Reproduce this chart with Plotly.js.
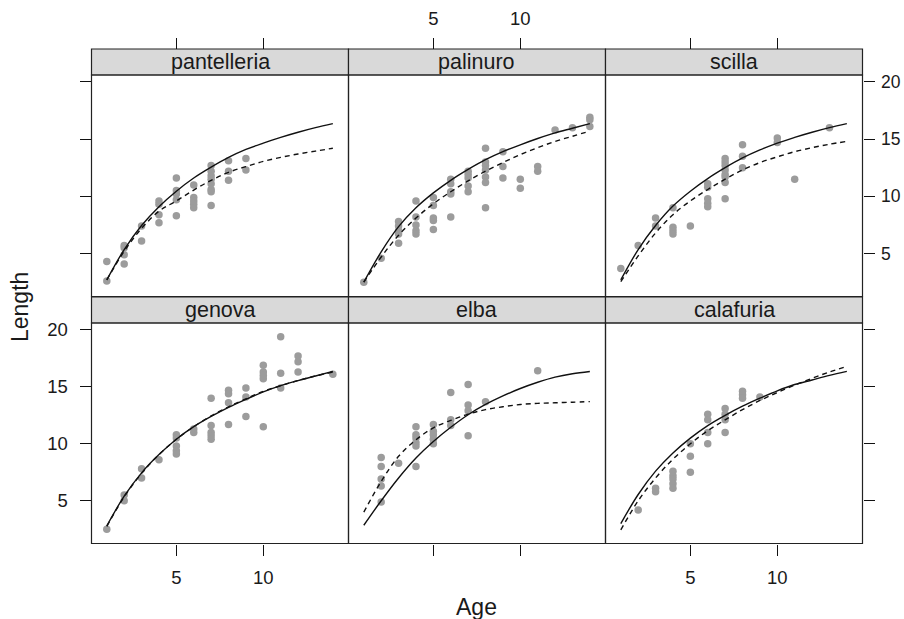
<!DOCTYPE html>
<html>
<head>
<meta charset="utf-8">
<script src="https://cdn.plot.ly/plotly-3.0.1.min.js"></script>
<style>html,body{margin:0;padding:0;background:#fff;}#chart{width:904px;height:619px;}</style>
</head>
<body>
<div id="chart"></div>
<script>
// ---- data ----
const sites = ['pantelleria', 'palinuro', 'scilla', 'genova', 'elba', 'calafuria'];

const pantelleriaAge = [1,1,2,2,2,2,3,3,4,4,4,4,5,5,5,5,5,6,6,6,6,6,7,7,7,7,7,7,7,7,8,8,8,9,9];
const pantelleriaLen = [4.3,2.6,5.7,5.5,4.9,4.1,7.4,6.1,9.6,9.3,8.4,7.7,11.6,10.5,10.2,9.7,8.3,11.0,9.9,9.6,9.3,9.0,12.7,12.2,11.8,11.5,11.1,10.6,10.4,9.2,13.1,12.2,11.4,13.3,12.3];

const palinuroAge = [1,2,3,3,3,3,3,4,4,4,4,4,5,5,5,5,5,6,6,6,6,6,7,7,7,7,7,8,8,8,8,8,8,8,9,9,9,10,10,11,11,12,13,14,14,14];
const palinuroLen = [2.5,4.6,7.8,7.4,7.0,6.7,5.9,9.6,8.2,7.5,7.0,6.7,9.9,9.2,8.1,7.9,7.1,11.5,11.1,10.4,10.2,8.2,12.2,11.9,11.6,10.9,10.4,14.2,13.0,12.7,12.3,11.7,11.2,9.0,13.9,12.6,11.6,11.5,10.7,12.6,12.2,15.8,16.0,16.9,16.7,16.1];

const scillaAge = [1,2,3,3,4,4,4,4,5,6,6,6,6,6,7,7,7,7,7,7,7,7,8,8,8,10,10,11,13];
const scillaLen = [3.7,5.7,8.1,7.4,9.0,7.3,7.0,6.7,7.4,11.1,10.8,9.8,9.4,9.1,13.3,13.0,12.7,12.3,11.9,11.7,11.2,9.8,14.5,13.5,12.5,15.1,14.7,11.5,16.0];

const genovaAge = [1,2,2,3,3,4,5,5,5,5,5,6,6,7,7,7,7,7,8,8,8,8,9,9,9,10,10,10,10,10,11,11,11,12,12,12,14];
const genovaLen = [2.5,5.5,5.0,7.8,7.0,8.6,10.8,10.5,9.8,9.4,9.1,11.3,11.0,14.0,11.6,11.0,10.7,10.4,14.7,14.4,13.6,11.7,14.9,14.1,12.4,16.9,16.3,16.0,15.7,11.5,19.4,16.2,14.9,17.7,17.2,16.3,16.1];

const elbaAge = [2,2,2,2,2,3,4,4,4,4,4,4,5,5,5,5,5,6,6,6,7,7,7,7,8,11];
const elbaLen = [8.8,8.0,6.9,6.3,4.9,8.3,11.5,10.8,10.5,10.1,9.8,8.0,11.7,11.1,10.8,10.4,10.0,14.5,12.1,11.6,15.2,13.4,12.9,10.7,13.7,16.4];

const calafuriaAge = [2,3,3,4,4,4,4,4,5,5,5,6,6,6,6,7,7,7,7,8,8,8,9];
const calafuriaLen = [4.2,6.1,5.8,7.6,7.2,6.9,6.5,6.1,10.0,8.9,7.5,12.6,12.1,11.0,10.0,13.1,12.6,12.1,11.0,14.6,14.3,14.0,14.1];

// fitted curves, at ages 1..14
const curveAge = [1,2,3,4,5,6,7,8,9,10,11,12,13,14];
const pantelleriaSolid = [2.7,5.35,7.45,9.1,10.45,11.6,12.55,13.4,14.1,14.65,15.15,15.6,16.0,16.35];
const pantelleriaDash  = [2.7,5.2,7.2,8.7,9.6,10.55,11.4,12.1,12.6,13.05,13.4,13.7,13.95,14.2];
const palinuroSolid = [2.5,5.15,7.35,9.0,10.3,11.4,12.35,13.2,13.9,14.5,15.05,15.55,15.95,16.35];
const palinuroDash  = [2.5,4.7,6.6,8.1,9.35,10.4,11.35,12.2,12.95,13.65,14.25,14.8,15.25,15.7];
const scillaSolid = [2.7,5.35,7.45,9.15,10.45,11.55,12.5,13.35,14.05,14.65,15.15,15.6,16.0,16.35];
const scillaDash  = [2.55,4.8,6.8,8.4,9.6,10.6,11.5,12.3,12.95,13.45,13.9,14.25,14.55,14.8];
const genovaSolid = [2.8,5.4,7.45,9.05,10.4,11.5,12.4,13.2,13.9,14.55,15.1,15.55,15.95,16.35];
const genovaDash  = [2.75,5.35,7.4,9.05,10.4,11.5,12.45,13.25,13.95,14.6,15.1,15.55,15.95,16.3];
const elbaSolid = [2.85,5.0,7.0,8.75,10.2,11.45,12.55,13.45,14.2,14.85,15.4,15.85,16.15,16.35];
const elbaDash  = [4.0,6.7,8.9,10.35,11.4,12.05,12.6,13.0,13.25,13.45,13.55,13.6,13.65,13.7];
const calafuriaSolid = [3.0,5.55,7.6,9.2,10.5,11.6,12.5,13.3,14.0,14.65,15.2,15.6,16.0,16.35];
const calafuriaDash  = [2.45,5.0,7.0,8.65,10.0,11.15,12.1,13.0,13.8,14.5,15.15,15.75,16.3,16.8];

const xTicks = [5, 10];
const yTicks = [5, 10, 15, 20];
const xLabel = 'Age';
const yLabel = 'Length';

// ---- build ----
const pts = [
  [pantelleriaAge, pantelleriaLen, pantelleriaSolid, pantelleriaDash],
  [palinuroAge, palinuroLen, palinuroSolid, palinuroDash],
  [scillaAge, scillaLen, scillaSolid, scillaDash],
  [genovaAge, genovaLen, genovaSolid, genovaDash],
  [elbaAge, elbaLen, elbaSolid, elbaDash],
  [calafuriaAge, calafuriaLen, calafuriaSolid, calafuriaDash]
];

const W = 904, H = 619;
const colPx = [[91.5, 348.5], [348.5, 605.5], [605.5, 862.5]];
const rowPx = [[75, 296.5], [323, 543.5]];
const stripPx = [[49, 75], [297, 323]];
const FONT = 'Liberation Sans, Arial, Helvetica, sans-serif';
const TXT = '#1a1a1a';
const TICKSIZE = 18.5;

const traces = [];
const layout = {
  width: W, height: H,
  margin: {l: 0, r: 0, t: 0, b: 0},
  paper_bgcolor: '#ffffff', plot_bgcolor: '#ffffff',
  showlegend: false,
  font: {family: FONT, size: 17, color: TXT},
  shapes: [], annotations: []
};

const xRange = [0.12, 14.9];
const yRange = [1.25, 20.6];

for (let i = 0; i < 6; i++) {
  const r = Math.floor(i / 3), c = i % 3;
  const n = i + 1;
  const xa = 'x' + (n === 1 ? '' : n), ya = 'y' + (n === 1 ? '' : n);
  const xk = 'xaxis' + (n === 1 ? '' : n), yk = 'yaxis' + (n === 1 ? '' : n);
  const [ages, lens, solid, dash] = pts[i];
  traces.push({type: 'scatter', mode: 'markers', x: ages, y: lens, xaxis: xa, yaxis: ya,
    marker: {color: '#9c9c9c', size: 7.5}, hoverinfo: 'skip', cliponaxis: true});
  traces.push({type: 'scatter', mode: 'lines', x: curveAge, y: dash, xaxis: xa, yaxis: ya,
    line: {color: '#111', width: 1.4, dash: '5px,4px', shape: 'spline', smoothing: 1}, hoverinfo: 'skip'});
  traces.push({type: 'scatter', mode: 'lines', x: curveAge, y: solid, xaxis: xa, yaxis: ya,
    line: {color: '#111', width: 1.4, shape: 'spline', smoothing: 1}, hoverinfo: 'skip'});

  const xd = [colPx[c][0] / W, colPx[c][1] / W];
  const yd = [1 - rowPx[r][1] / H, 1 - rowPx[r][0] / H];

  const xaxis = {domain: xd, range: xRange, showgrid: false, zeroline: false, showline: false,
    tickvals: xTicks, ticktext: xTicks.map(String), ticks: 'outside', ticklen: 11, tickwidth: 1,
    tickcolor: '#111', tickfont: {size: TICKSIZE, family: FONT, color: TXT}, ticklabelstandoff: 6,
    fixedrange: true};
  if (r === 0) {
    xaxis.side = 'top';
    xaxis.anchor = 'free';
    xaxis.position = 1 - stripPx[0][0] / H;
    xaxis.showticklabels = (c === 1);
  } else {
    xaxis.side = 'bottom';
    xaxis.anchor = ya;
    xaxis.showticklabels = (c !== 1);
  }
  const yaxis = {domain: yd, range: yRange, anchor: xa, showgrid: false, zeroline: false, showline: false,
    tickvals: yTicks, ticktext: yTicks.map(String), ticks: 'outside', ticklen: 11, tickwidth: 1,
    tickcolor: '#111', tickfont: {size: TICKSIZE, family: FONT, color: TXT}, ticklabelstandoff: 8,
    fixedrange: true};
  if (c === 0) {
    yaxis.side = 'left';
    yaxis.showticklabels = (r === 1);
  } else if (c === 2) {
    yaxis.side = 'right';
    yaxis.showticklabels = (r === 0);
    yaxis.ticklabelstandoff = 3;
    yaxis.tickfont = {size: 17.5, family: FONT, color: TXT};
  } else {
    yaxis.ticks = '';
    yaxis.showticklabels = false;
  }
  layout[xk] = xaxis;
  layout[yk] = yaxis;

  // panel frame
  layout.shapes.push({type: 'rect', xref: 'paper', yref: 'paper', x0: xd[0], x1: xd[1], y0: yd[0], y1: yd[1],
    line: {color: '#222', width: 1.2}, fillcolor: 'rgba(0,0,0,0)', layer: 'above'});
  // strip
  const sy = [1 - stripPx[r][1] / H, 1 - stripPx[r][0] / H];
  layout.shapes.push({type: 'rect', xref: 'paper', yref: 'paper', x0: xd[0], x1: xd[1], y0: sy[0], y1: sy[1],
    line: {color: '#222', width: 1.2}, fillcolor: '#d9d9d9', layer: 'below'});
  layout.annotations.push({xref: 'paper', yref: 'paper', x: (xd[0] + xd[1]) / 2, y: (sy[0] + sy[1]) / 2,
    text: sites[i], showarrow: false, xanchor: 'center', yanchor: 'middle',
    font: {size: 21.5, family: FONT, color: TXT}});
}

layout.annotations.push({xref: 'paper', yref: 'paper', x: 477 / W, y: 1 - 607 / H, text: xLabel,
  showarrow: false, xanchor: 'center', yanchor: 'middle', font: {size: 23, family: FONT, color: TXT}});
layout.annotations.push({xref: 'paper', yref: 'paper', x: 20 / W, y: 1 - 307 / H, text: yLabel, textangle: -90,
  showarrow: false, xanchor: 'center', yanchor: 'middle', font: {size: 23, family: FONT, color: TXT}});

Plotly.newPlot('chart', traces, layout, {staticPlot: true, displayModeBar: false});
</script>
</body>
</html>
